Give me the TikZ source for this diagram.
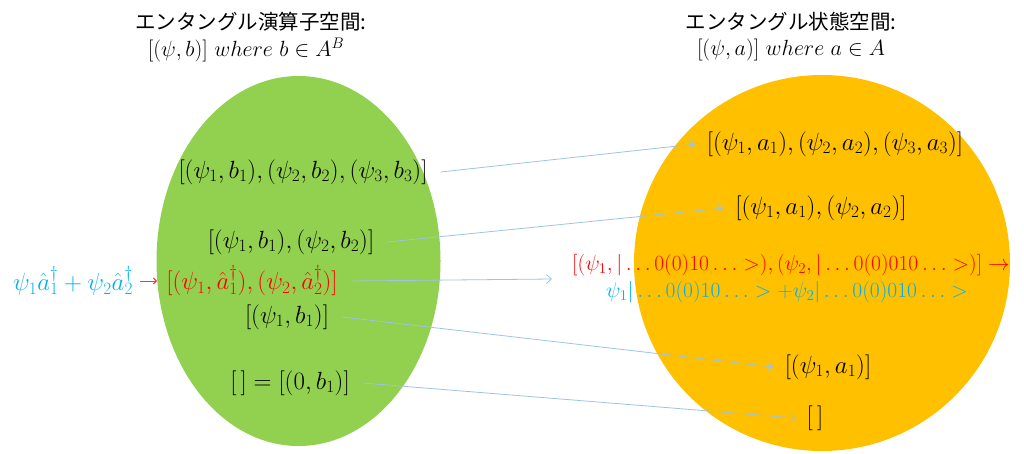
\documentclass[tikz,border=0pt]{standalone}
\usepackage{fontspec}
\newfontfamily\jpfont{Noto Sans CJK JP}
\usetikzlibrary{arrows.meta}
\definecolor{lgreen}{HTML}{92D050}
\definecolor{lorange}{HTML}{FFC000}
\definecolor{lred}{HTML}{FF0000}
\definecolor{lblue}{HTML}{00B0F0}
\definecolor{lconn}{HTML}{9DC3E6}
\tikzset{
  lbl/.style={inner sep=1pt, font=\fontsize{24}{28}\selectfont},
  lblm/.style={inner sep=1pt, font=\fontsize{20}{24}\selectfont, scale=1.04, transform shape},
  lbls/.style={inner sep=1pt, font=\fontsize{20}{24}\selectfont, scale=1.06, transform shape},
  ttl/.style={inner sep=1pt, font=\fontsize{20.5}{24}\selectfont\jpfont},
  conn/.style={draw=lconn, line width=0.8pt, -{Straight Barb[length=5pt,width=9pt]}},
  redarrow/.style={draw=lred!80, line width=1pt, shorten >=8pt, -{Straight Barb[length=3pt,width=6pt]}}
}
\begin{document}
\begin{tikzpicture}[x=1pt,y=-1pt]
\useasboundingbox (0,0) rectangle (1024,453);
\fill[lgreen] (298.5,261) ellipse [x radius=142, y radius=185];
\fill[lorange] (822,263) ellipse [x radius=188, y radius=188];

\node[ttl] (t1) at (251,22) {エンタングル演算子空間:};
\node[lbls] (t1b) at (246,50) {$[(\psi,b)]\ where\ b\in A^B$};
\node[ttl] (t2) at (791,22) {エンタングル状態空間:};
\node[lbls] (t2b) at (791,50) {$[(\psi,a)]\ where\ a\in A$};

\node[lbl] (L1) at (303,172) {$[(\psi_1,b_1),(\psi_2,b_2),(\psi_3,b_3)]$};
\node[lbl] (L2) at (291,242) {$[(\psi_1,b_1),(\psi_2,b_2)]$};
\node[lbl,text=lred] (L3) at (252,281) {$[(\psi_1,\hat a_1^\dagger),(\psi_2,\hat a_2^\dagger)]$};
\node[lbl,text=lblue] (B) at (73,281) {$\psi_1\hat a_1^\dagger+\psi_2\hat a_2^\dagger$};
\node[lbl] (L4) at (287,317) {$[(\psi_1,b_1)]$};
\node[lbl] (L5) at (290,383) {$[\,]=[(0,b_1)]$};

\node[lbl] (R1) at (835,144) {$[(\psi_1,a_1),(\psi_2,a_2),(\psi_3,a_3)]$};
\node[lbl] (R2) at (821,208) {$[(\psi_1,a_1),(\psi_2,a_2)]$};
\node[lblm,text=lred] (R3) at (791,265) {$[(\psi_1,|\ldots0(0)10\ldots>),(\psi_2,|\ldots0(0)010\ldots>)]\rightarrow$};
\node[lblm,text=lblue] (R3b) at (787,292) {$\psi_1|\ldots0(0)10\ldots>{+}\psi_2|\ldots0(0)010\ldots>$};
\node[lbl] (R4) at (828,367) {$[(\psi_1,a_1)]$};
\node[lbl] (R5) at (815,418) {$[\,]$};
\coordinate (a3end) at (552,279);

\draw[redarrow] ([xshift=6pt]B.east) -- (L3.west);
\draw[conn] ([xshift=12pt]L1.east) -- ([xshift=-10pt]R1.west);
\draw[conn] ([xshift=12pt]L2.east) -- ([xshift=-10pt]R2.west);
\draw[conn] ([xshift=12pt]L3.east) -- (a3end);
\draw[conn] ([xshift=12pt]L4.east) -- ([xshift=-10pt]R4.west);
\draw[conn] ([xshift=12pt]L5.east) -- ([xshift=-10pt]R5.west);
\end{tikzpicture}
\end{document}
